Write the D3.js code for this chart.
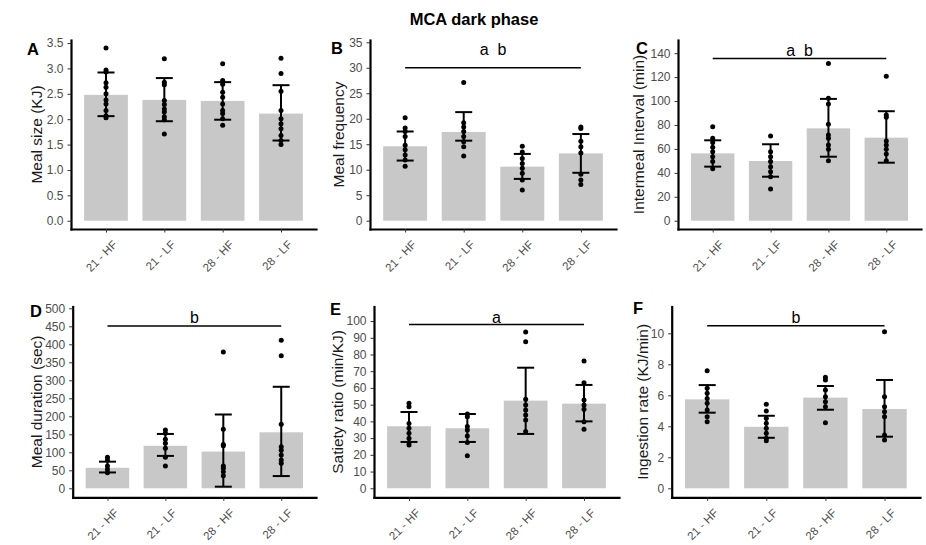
<!DOCTYPE html>
<html>
<head>
<meta charset="utf-8">
<script src="https://cdn.jsdelivr.net/npm/d3@7"></script>
<style>
  body { margin: 0; background: #fff; }
  svg { font-family: "Liberation Sans", Arial, sans-serif; }
</style>
</head>
<body>
<div id="vis"></div>
<script>
// MCA dark phase — six bar panels with mean bars, error bars and individual points

var chartTitle = 'MCA dark phase';
var groups = ['21 - HF', '21 - LF', '28 - HF', '28 - LF'];
var letters = ['A', 'B', 'C', 'D', 'E', 'F'];
var yTitles = ['Meal size (KJ)', 'Meal frequency', 'Intermeal Interval (min)',
               'Meal duration (sec)', 'Satiety ratio (min/KJ)', 'Ingestion rate (KJ/min)'];

var yTicks = [
  [0, 0.5, 1, 1.5, 2, 2.5, 3, 3.5],
  [0, 5, 10, 15, 20, 25, 30, 35],
  [0, 20, 40, 60, 80, 100, 120, 140],
  [0, 50, 100, 150, 200, 250, 300, 350, 400, 450, 500],
  [0, 10, 20, 30, 40, 50, 60, 70, 80, 90, 100],
  [0, 2, 4, 6, 8, 10]
];

// bar heights (group means)
var barMeans = [
  [2.48, 2.38, 2.36, 2.11],
  [14.6, 17.4, 10.6, 13.2],
  [56.3, 49.9, 77.2, 69.4],
  [57, 118, 102, 155.5],
  [37.1, 35.9, 52.4, 50.6],
  [5.74, 3.97, 5.85, 5.12]
];

// error bar ends
var errHigh = [
  [2.92, 2.81, 2.73, 2.67],
  [17.5, 21.3, 13.1, 17.0],
  [67.2, 63.9, 101.8, 91.5],
  [74, 151, 205, 282],
  [45.6, 44.4, 72.1, 61.8],
  [6.66, 4.68, 6.6, 6.99]
];
var errLow = [
  [2.06, 1.96, 1.99, 1.58],
  [11.8, 15.7, 8.2, 9.4],
  [45.2, 36.8, 53.5, 48.5],
  [44, 90, 4.5, 34],
  [27.7, 27.7, 32.5, 40.0],
  [4.88, 3.26, 5.07, 3.33]
];

// individual animals
var points = [
  [[3.40, 2.97, 2.93, 2.72, 2.63, 2.50, 2.38, 2.30, 2.17, 2.07, 2.03],
   [3.19, 2.73, 2.68, 2.37, 2.29, 2.20, 2.14, 2.05, 1.99, 1.71],
   [3.09, 2.76, 2.69, 2.53, 2.43, 2.30, 2.17, 2.11, 2.01, 1.88],
   [3.20, 2.90, 2.55, 2.17, 2.01, 1.91, 1.81, 1.68, 1.58, 1.50]],
  [[20.2, 18.2, 17.5, 16.5, 14.8, 13.9, 12.9, 11.9, 10.7],
   [27.1, 19.2, 18.4, 17.5, 16.5, 15.5, 14.5, 12.7],
   [14.6, 13.5, 12.2, 11.2, 10.3, 9.3, 8.0, 6.0],
   [18.4, 18.1, 15.6, 14.5, 13.3, 9.1, 8.0, 7.1]],
  [[78.6, 68.9, 65.3, 61.3, 57.7, 53.5, 49.4, 43.5],
   [70.8, 57.7, 53.5, 49.4, 45.2, 41.0, 36.8, 26.5],
   [131.3, 102.3, 97.6, 80.6, 71.7, 68.9, 63.3, 59.7, 50.2],
   [120.7, 88.4, 86.4, 66.6, 63.3, 59.7, 55.8, 50.2]],
  [[86, 78.6, 62, 52, 43],
   [162, 153, 136, 125, 111, 86, 62],
   [378.7, 164, 122, 118, 62, 55.5, 46, 35],
   [411, 368.5, 178, 115.5, 106, 92.5, 78.6, 69.4]],
  [[50.8, 48.8, 38.8, 35.9, 32.9, 29.9, 27.3, 25.9],
   [44.4, 42.8, 36.9, 34.9, 31.3, 27.3, 19.5],
   [93.4, 87.6, 53.2, 49.8, 46.8, 43.8, 40.8, 33.9],
   [76.1, 63.1, 52.8, 49.8, 47.2, 39.8, 35.3]],
  [[7.59, 6.45, 6.13, 5.8, 5.48, 5.05, 4.62, 4.3],
   [5.42, 4.99, 4.52, 4.19, 3.87, 3.55, 3.23, 3.07],
   [7.16, 6.99, 6.34, 5.91, 5.59, 5.26, 4.23],
   [10.1, 5.9, 5.26, 4.94, 4.62, 3.44, 3.12]]
];

// significance annotations (null = none)
var sigLabels = [null, 'a  b', 'a  b', 'b', 'a', 'b'];
var sigLineAt = [null, 30, 135.5, 451, 98, 10.49];
var sigTextAt = [null, 32.5, 138, 460, 99, 10.65];

// panel geometry (pixels) and axis extents
var panels = [
  { left: 71,    right: 316, top: 40,    bottom: 229,   domain: [-0.163, 3.56], titleX: 36.7,  letterX: 27,  letterY: 55 },
  { left: 370,   right: 616, top: 40,    bottom: 229,   domain: [-1.63, 35.45], titleX: 339,   letterX: 331, letterY: 54 },
  { left: 678,   right: 921, top: 40,    bottom: 229,   domain: [-6.9, 151],    titleX: 639,   letterX: 636, letterY: 53.5 },
  { left: 72.7,  right: 316, top: 306.5, bottom: 497.3, domain: [-25, 505],     titleX: 36.5,  letterX: 30,  letterY: 316.5 },
  { left: 374,   right: 619, top: 306.5, bottom: 497.3, domain: [-5.4, 108.7],  titleX: 337.5, letterX: 330, letterY: 315 },
  { left: 671.7, right: 920, top: 306.5, bottom: 497.3, domain: [-0.58, 11.73], titleX: 642.5, letterX: 633, letterY: 314 }
];

var svg = d3.select('#vis').append('svg')
  .attr('width', 926)
  .attr('height', 545);

svg.append('text')
  .attr('x', 474).attr('y', 25)
  .attr('text-anchor', 'middle')
  .style('font-weight', 'bold')
  .style('font-size', '16.5px')
  .attr('fill', '#000')
  .text(chartTitle);

panels.forEach(function(p, k) {
  var x = d3.scalePoint().domain(groups).range([p.left, p.right]).padding(0.6);
  var y = d3.scaleLinear().domain(p.domain).range([p.bottom, p.top]);
  var bw = x.step() * 0.75;
  var capW = 17;
  var g = svg.append('g').attr('class', 'panel');

  // bars
  g.selectAll('rect.bar').data(groups).join('rect')
    .attr('class', 'bar')
    .attr('x', d => x(d) - bw / 2)
    .attr('y', (d, i) => y(barMeans[k][i]))
    .attr('width', bw)
    .attr('height', (d, i) => y(0) - y(barMeans[k][i]))
    .attr('fill', '#c8c8c8');

  // error bars
  var eb = g.selectAll('g.err').data(groups).join('g').attr('class', 'err')
    .attr('stroke', '#000').attr('stroke-width', 2);
  eb.append('line')
    .attr('x1', d => x(d)).attr('x2', d => x(d))
    .attr('y1', (d, i) => y(errLow[k][i])).attr('y2', (d, i) => y(errHigh[k][i]));
  eb.append('line')
    .attr('x1', d => x(d) - capW / 2).attr('x2', d => x(d) + capW / 2)
    .attr('y1', (d, i) => y(errHigh[k][i])).attr('y2', (d, i) => y(errHigh[k][i]));
  eb.append('line')
    .attr('x1', d => x(d) - capW / 2).attr('x2', d => x(d) + capW / 2)
    .attr('y1', (d, i) => y(errLow[k][i])).attr('y2', (d, i) => y(errLow[k][i]));

  // points
  var flat = [];
  points[k].forEach(function(vals, i) {
    vals.forEach(function(v) { flat.push({ grp: groups[i], v: v }); });
  });
  g.selectAll('circle.pt').data(flat).join('circle')
    .attr('class', 'pt')
    .attr('cx', d => x(d.grp))
    .attr('cy', d => y(d.v))
    .attr('r', 2.5)
    .attr('fill', '#000');

  // y axis
  var yAxis = g.append('g')
    .attr('transform', `translate(${p.left},0)`)
    .call(d3.axisLeft(y)
      .tickValues(yTicks[k])
      .tickSize(3.5).tickSizeOuter(0).tickPadding(4)
      .tickFormat(k === 0 ? d3.format('.1f') : d3.format('d')));
  yAxis.select('.domain').attr('stroke', '#000').attr('stroke-width', 2.2).attr('stroke-linecap', 'square');
  yAxis.selectAll('.tick line').attr('stroke', '#333');
  yAxis.selectAll('.tick text').attr('fill', '#4d4d4d').style('font-size', '12px')
    .style('font-family', '"Liberation Sans", Arial, sans-serif');

  // x axis
  var xAxis = g.append('g')
    .attr('transform', `translate(0,${p.bottom})`)
    .call(d3.axisBottom(x).tickSize(3.5).tickSizeOuter(0).tickFormat(''));
  xAxis.select('.domain').attr('stroke', '#000').attr('stroke-width', 2.2).attr('stroke-linecap', 'square');
  xAxis.selectAll('.tick line').attr('stroke', '#333');

  g.selectAll('text.xlab').data(groups).join('text')
    .attr('class', 'xlab')
    .attr('transform', d => `translate(${x(d) + 6},${p.bottom + 10.5}) rotate(-45)`)
    .attr('text-anchor', 'end')
    .attr('dy', '0.72em')
    .attr('fill', '#4d4d4d')
    .style('font-size', '11.5px')
    .text(d => d);

  // y axis title
  g.append('text')
    .attr('transform', `translate(${p.titleX},${(p.top + p.bottom) / 2}) rotate(-90)`)
    .attr('text-anchor', 'middle')
    .attr('dy', '0.35em')
    .attr('fill', '#1a1a1a')
    .style('font-size', '15.5px')
    .text(yTitles[k]);

  // panel letter
  g.append('text')
    .attr('x', p.letterX).attr('y', p.letterY)
    .style('font-weight', 'bold')
    .style('font-size', '16.5px')
    .attr('fill', '#000')
    .text(letters[k]);

  // significance line and label
  if (sigLabels[k]) {
    g.append('line')
      .attr('x1', x(groups[0])).attr('x2', x(groups[groups.length - 1]))
      .attr('y1', y(sigLineAt[k])).attr('y2', y(sigLineAt[k]))
      .attr('stroke', '#000').attr('stroke-width', 1.5);
    g.append('text')
      .attr('x', (x(groups[0]) + x(groups[groups.length - 1])) / 2)
      .attr('y', y(sigTextAt[k]))
      .attr('text-anchor', 'middle')
      .style('font-size', '16px')
      .style('white-space', 'pre')
      .attr('fill', '#000')
      .text(sigLabels[k]);
  }
});
</script>
</body>
</html>
